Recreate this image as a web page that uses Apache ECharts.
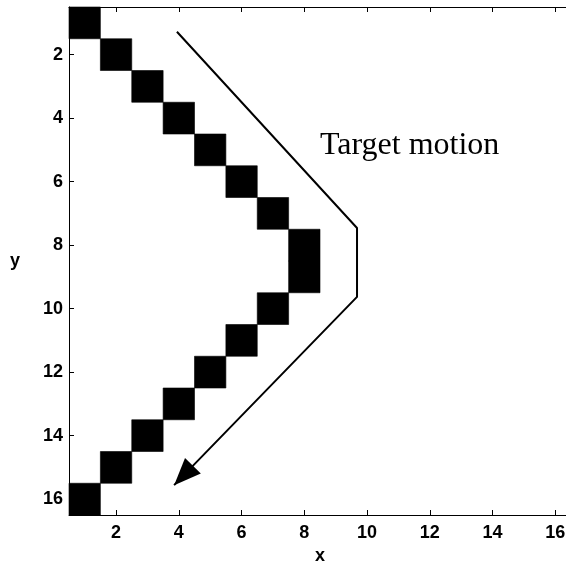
<!DOCTYPE html>
<html>
<head>
<meta charset="utf-8">
<script src="https://cdn.jsdelivr.net/npm/echarts@6/dist/echarts.min.js"></script>
<style>
  html, body { margin: 0; padding: 0; background: #fff; }
  #chart { width: 566px; height: 565px; }
</style>
</head>
<body>
<div id="chart"></div>
<script>
// black cells of the 16x16 image (column x, row y)
const cellX = [1, 2, 3, 4, 5, 6, 7, 8, 8, 7, 6, 5, 4, 3, 2, 1]
const cellY = [1, 2, 3, 4, 5, 6, 7, 8, 9, 10, 11, 12, 13, 14, 15, 16]
const ticks = [2, 4, 6, 8, 10, 12, 14, 16]
// target motion path, in data units
const pathX = [3.94, 9.68, 9.68, 3.85]
const pathY = [1.28, 7.46, 9.63, 15.56]

const chart = echarts.init(document.getElementById('chart'))

const labelFont = {
  color: '#000',
  fontFamily: 'Liberation Sans',
  fontWeight: 'bold',
  fontSize: 18
}

const axisBase = (show) => ({
  type: 'value',
  min: 0.5,
  max: 16.5,
  axisLine: { show: true, onZero: false, lineStyle: { color: '#000', width: 1 } },
  axisTick: { show: true, inside: true, length: 5, customValues: ticks, lineStyle: { color: '#000' } },
  axisLabel: { show, customValues: ticks, ...labelFont },
  splitLine: { show: false }
})

const cells = cellX.map((x, i) => [x, cellY[i]])
const n = pathX.length

const option = {
  animation: false,
  grid: { left: 69, right: -5, top: 7, bottom: 50, outerBoundsMode: 'none', containLabel: false },
  xAxis: [
    {
      ...axisBase(true),
      position: 'bottom',
      name: 'x',
      nameLocation: 'middle',
      nameGap: 32,
      nameTextStyle: labelFont,
      axisLabel: { ...axisBase(true).axisLabel, margin: 9 }
    },
    { ...axisBase(false), position: 'top' }
  ],
  yAxis: [
    {
      ...axisBase(true),
      inverse: true,
      position: 'left',
      name: 'y',
      nameLocation: 'middle',
      nameGap: 49,
      nameRotate: 0,
      nameTextStyle: labelFont,
      axisLabel: { ...axisBase(true).axisLabel, margin: 6 }
    },
    { ...axisBase(false), inverse: true, position: 'right' }
  ],
  series: [
    {
      type: 'custom',
      data: cells,
      renderItem: (params, api) => {
        const p0 = api.coord([api.value(0) - 0.5, api.value(1) - 0.5])
        const p1 = api.coord([api.value(0) + 0.5, api.value(1) + 0.5])
        return {
          type: 'rect',
          shape: { x: p0[0], y: p0[1], width: p1[0] - p0[0], height: p1[1] - p0[1] },
          style: { fill: '#000', stroke: '#000', lineWidth: 0.6 }
        }
      }
    },
    {
      type: 'line',
      data: pathX.map((x, i) => [x, pathY[i]]),
      symbol: 'none',
      lineStyle: { color: '#000', width: 2 }
    },
    {
      type: 'custom',
      data: [[pathX[n - 2], pathY[n - 2], pathX[n - 1], pathY[n - 1]]],
      renderItem: (params, api) => {
        const a = api.coord([api.value(0), api.value(1)])
        const b = api.coord([api.value(2), api.value(3)])
        const dx = b[0] - a[0]
        const dy = b[1] - a[1]
        const len = Math.sqrt(dx * dx + dy * dy)
        const ux = dx / len
        const uy = dy / len
        const L = 27
        const W = 11
        const bx = b[0] - ux * L
        const by = b[1] - uy * L
        return {
          type: 'polygon',
          shape: {
            points: [
              b,
              [bx - uy * W, by + ux * W],
              [bx + uy * W, by - ux * W]
            ]
          },
          style: { fill: '#000' }
        }
      }
    }
  ],
  graphic: [
    {
      type: 'text',
      x: 320,
      y: 146,
      style: {
        text: 'Target motion',
        fontFamily: 'Liberation Serif',
        fontSize: 32,
        fill: '#000',
        verticalAlign: 'middle'
      }
    }
  ]
}

chart.setOption(option)
</script>
</body>
</html>
